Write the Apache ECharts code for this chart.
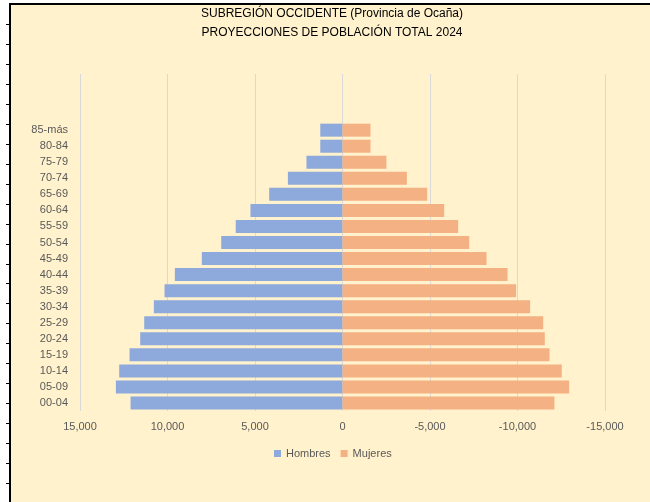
<!DOCTYPE html>
<html>
<head>
<meta charset="utf-8">
<script src="https://cdn.jsdelivr.net/npm/echarts@6/dist/echarts.min.js"></script>
<style>
html,body{margin:0;padding:0;background:#fff;}
#c{width:650px;height:502px;}
</style>
</head>
<body>
<div id="c"></div>
<script>
// Age groups, bottom to top (three blank rows at the top of the axis)
var categories = ['00-04','05-09','10-14','15-19','20-24','25-29','30-34','35-39','40-44','45-49','50-54','55-59','60-64','65-69','70-74','75-79','80-84','85-más','','',''];
var hombres = [12110,12950,12760,12170,11560,11330,10780,10170,9580,8040,6930,6100,5260,4190,3120,2060,1270,1270,null,null,null];
var mujeres = [-12110,-12950,-12530,-11830,-11560,-11470,-10720,-9920,-9430,-8230,-7240,-6610,-5810,-4840,-3680,-2510,-1600,-1600,null,null,null];
var titleLines = ['SUBREGIÓN OCCIDENTE (Provincia de Ocaña)','PROYECCIONES DE POBLACIÓN TOTAL 2024'];
var seriesNames = ['Hombres','Mujeres'];

var FONT = '"Liberation Sans", Arial, sans-serif';
var chart = echarts.init(document.getElementById('c'), null, {renderer:'canvas'});

// decorative sheet border + row ticks
var deco = [
  {type:'rect', shape:{x:0,y:0,width:9,height:502}, style:{fill:'#fff'}, z:100},
  {type:'rect', shape:{x:0,y:0,width:650,height:3}, style:{fill:'#fff'}, z:100},
  {type:'rect', shape:{x:9,y:3,width:2,height:499}, style:{fill:'#000'}, z:101},
  {type:'rect', shape:{x:9,y:3,width:641,height:2}, style:{fill:'#000'}, z:101}
];
for (var k = 0; k < 24; k++) {
  var yy = Math.round(24 + k * 19.96) + 0.5;
  deco.push({type:'line', shape:{x1:6,y1:yy,x2:9,y2:yy}, style:{stroke:'#000',lineWidth:1}, z:101});
}

chart.setOption({
  backgroundColor:'#FFF2CC',
  animation:false,
  textStyle:{fontFamily:FONT},
  title:{
    text: titleLines.join('\n'),
    left:332, textAlign:'center', top:4, padding:0,
    textStyle:{fontFamily:FONT, fontSize:12, fontWeight:'normal', color:'#000', lineHeight:19.3}
  },
  legend:{
    data:seriesNames, left:274, top:448, padding:0,
    icon:'rect', itemWidth:7, itemHeight:7, itemGap:10,
    textStyle:{fontFamily:FONT, fontSize:11, color:'#595959'}
  },
  grid:{left:80, right:45, top:74, bottom:91, containLabel:false},
  xAxis:{
    type:'value', min:-15000, max:15000, interval:5000, inverse:true,
    axisLine:{show:false}, axisTick:{show:false},
    splitLine:{show:true, lineStyle:{color:'#D9D9D9', width:1}},
    axisLabel:{fontFamily:FONT, fontSize:11, color:'#595959', margin:10,
      formatter:function(v){ return v.toLocaleString('en-US'); }}
  },
  yAxis:{
    type:'category', data:categories,
    axisLine:{show:false}, axisTick:{show:false},
    axisLabel:{fontFamily:FONT, fontSize:11, color:'#595959', margin:12, interval:0}
  },
  series:[
    {name:seriesNames[0], type:'bar', data:hombres, barWidth:13, barGap:'-100%',
      itemStyle:{color:'#8EA9DB'}},
    {name:seriesNames[1], type:'bar', data:mujeres, barWidth:13, barGap:'-100%',
      itemStyle:{color:'#F4B183'}}
  ],
  graphic:deco
});
</script>
</body>
</html>
